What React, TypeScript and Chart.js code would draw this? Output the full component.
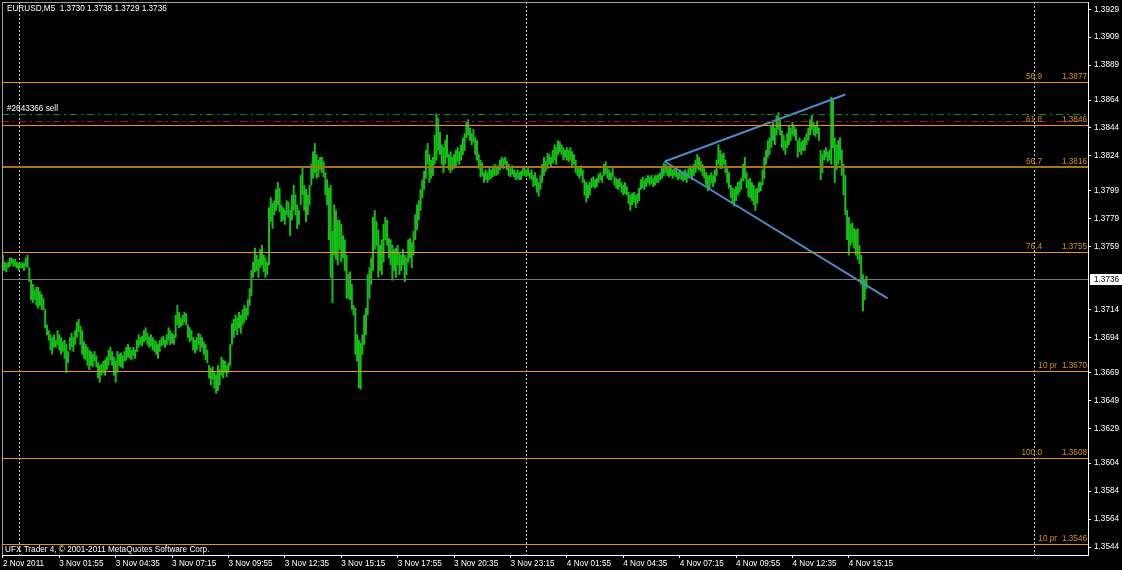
import React, { useEffect, useRef } from "react";
import { Chart, registerables } from "chart.js";

Chart.register(...registerables);

// ---- data (EURUSD M5, bar 0 = 2 Nov 23:15) ----
const HIGH = [
  1.3753, 1.3748, 1.3747, 1.3748, 1.3751, 1.3751, 1.375, 1.375, 1.3748, 1.3747,
  1.3747, 1.3748, 1.3747, 1.3751, 1.3753, 1.3744, 1.3735, 1.3732, 1.3728, 1.373,
  1.373, 1.3727, 1.3725, 1.3722, 1.3714, 1.3703, 1.3699, 1.3696, 1.3694, 1.3696,
  1.3692, 1.3699, 1.3696, 1.3694, 1.3691, 1.3692, 1.3689, 1.3684, 1.3694, 1.3697,
  1.3694, 1.3699, 1.3705, 1.3707, 1.3702, 1.3699, 1.3691, 1.3689, 1.3687, 1.3685,
  1.3684, 1.3682, 1.3684, 1.3681, 1.3676, 1.3674, 1.3675, 1.3677, 1.3678, 1.368,
  1.3685, 1.3687, 1.3684, 1.368, 1.3677, 1.3684, 1.3682, 1.3683, 1.3681, 1.3684,
  1.3687, 1.3689, 1.3687, 1.3685, 1.3687, 1.3685, 1.3692, 1.3696, 1.3694, 1.3695,
  1.3699, 1.3701, 1.3697, 1.3694, 1.3696, 1.3694, 1.3692, 1.3691, 1.3689, 1.3692,
  1.3694, 1.3695, 1.3692, 1.3696, 1.3701, 1.3699, 1.3697, 1.3696, 1.371, 1.3717,
  1.3712, 1.3708, 1.371, 1.3712, 1.3711, 1.3703, 1.3701, 1.3699, 1.3694, 1.3692,
  1.3694, 1.3697, 1.3696, 1.3694, 1.3691, 1.3689, 1.3685, 1.3674, 1.3672, 1.3673,
  1.3669, 1.3667, 1.3674, 1.3671, 1.368, 1.3678, 1.3677, 1.3674, 1.3676, 1.3689,
  1.3704, 1.3707, 1.371, 1.3708, 1.3712, 1.371, 1.3714, 1.3717, 1.3715, 1.3721,
  1.3729, 1.3742, 1.3748, 1.3758, 1.3753, 1.375, 1.3757, 1.376, 1.3753, 1.3751,
  1.3748, 1.3787, 1.3794, 1.379, 1.3792, 1.38, 1.3805, 1.3801, 1.3789, 1.3787,
  1.3785, 1.3792, 1.3791, 1.3785, 1.3796, 1.3803, 1.3796, 1.3789, 1.3785, 1.381,
  1.3816, 1.3803, 1.38, 1.3796, 1.3803, 1.3818, 1.3827, 1.3833, 1.3825, 1.3821,
  1.3823, 1.3823, 1.382, 1.3812, 1.3807, 1.3801, 1.3803, 1.377, 1.3789, 1.3785,
  1.3778, 1.3778, 1.3775, 1.3767, 1.3764, 1.3753, 1.3739, 1.3741, 1.3732, 1.3717,
  1.3715, 1.3696, 1.3692, 1.369, 1.3696, 1.371, 1.3715, 1.3739, 1.3744, 1.3751,
  1.378, 1.3785, 1.3777, 1.3771, 1.376, 1.3764, 1.3775, 1.378, 1.3778, 1.3765,
  1.3764, 1.376, 1.3757, 1.3758, 1.376, 1.3755, 1.3753, 1.3757, 1.3753, 1.3751,
  1.3764, 1.3765, 1.3762, 1.377, 1.3782, 1.3789, 1.3792, 1.38, 1.3807, 1.3813,
  1.3828, 1.3833, 1.3825, 1.3821, 1.3823, 1.3839, 1.3854, 1.3851, 1.3841, 1.3832,
  1.383, 1.3835, 1.3839, 1.3825, 1.3827, 1.3823, 1.3825, 1.3828, 1.383, 1.3827,
  1.3832, 1.3837, 1.384, 1.3848, 1.385, 1.3844, 1.384, 1.3843, 1.3837, 1.3835,
  1.3825, 1.3821, 1.3819, 1.3812, 1.3814, 1.3812, 1.3815, 1.3814, 1.3816, 1.3818,
  1.3815, 1.3817, 1.3821, 1.3823, 1.3822, 1.3823, 1.382, 1.3818, 1.3815, 1.3817,
  1.3814, 1.3812, 1.3814, 1.3812, 1.3813, 1.3815, 1.3816, 1.3814, 1.3815, 1.3812,
  1.3814, 1.381, 1.3812, 1.3808, 1.3805, 1.381, 1.3818, 1.3823, 1.382, 1.3826,
  1.3825, 1.3823, 1.3828, 1.3832, 1.383, 1.3835, 1.3834, 1.3832, 1.383, 1.3828,
  1.383, 1.3828, 1.383, 1.3827, 1.3825, 1.3821, 1.3816, 1.3815, 1.3817, 1.3814,
  1.3807, 1.3805, 1.3803, 1.3805, 1.3808, 1.3809, 1.3807, 1.3808, 1.3811, 1.3812,
  1.381, 1.3818, 1.382, 1.3815, 1.3814, 1.3812, 1.3815, 1.3809, 1.3808, 1.3807,
  1.3808, 1.3805, 1.3803, 1.3805, 1.3802, 1.3798, 1.3796, 1.3797, 1.3798, 1.3796,
  1.3797, 1.3801, 1.3807, 1.3809, 1.3807, 1.3808, 1.381, 1.3809, 1.381, 1.3808,
  1.381, 1.381, 1.3811, 1.3812, 1.3815, 1.3819, 1.3818, 1.3817, 1.3815, 1.3816,
  1.3814, 1.3815, 1.3814, 1.3812, 1.3814, 1.3813, 1.3812, 1.3814, 1.3812, 1.3815,
  1.3817, 1.3815, 1.3818, 1.3821, 1.3825, 1.3823, 1.382, 1.3818, 1.3815, 1.3812,
  1.381, 1.381, 1.3812, 1.381, 1.3814, 1.3821, 1.3832, 1.3828, 1.3825, 1.3826,
  1.3821, 1.3815, 1.3812, 1.3803, 1.3801, 1.38, 1.3802, 1.3805, 1.3806, 1.3808,
  1.3818, 1.3823, 1.3812, 1.3807, 1.3808, 1.3805, 1.3803, 1.38, 1.3801, 1.3805,
  1.3805, 1.3814, 1.3823, 1.3828, 1.3835, 1.3837, 1.3846, 1.3849, 1.3844, 1.3853,
  1.3855, 1.385, 1.3842, 1.3839, 1.3835, 1.384, 1.3846, 1.3844, 1.3848, 1.3846,
  1.3843, 1.3835, 1.3837, 1.3834, 1.3835, 1.3837, 1.384, 1.3844, 1.385, 1.3853,
  1.3848, 1.3846, 1.3849, 1.3844, 1.3828, 1.3825, 1.3828, 1.383, 1.3827, 1.3828,
  1.3866, 1.3864, 1.3837, 1.3832, 1.3835, 1.3837, 1.3828, 1.3818, 1.381, 1.3785,
  1.378, 1.3775, 1.3776, 1.3772, 1.3771, 1.3772, 1.376, 1.3753, 1.3739, 1.3735,
  1.3738,
];
const LOW = [
  1.3742, 1.3742, 1.3741, 1.3744, 1.3745, 1.3747, 1.3745, 1.3745, 1.3744, 1.3742,
  1.3744, 1.3744, 1.3742, 1.3745, 1.3744, 1.3734, 1.3721, 1.3719, 1.3721, 1.3717,
  1.3715, 1.3717, 1.3714, 1.3714, 1.3701, 1.3696, 1.3692, 1.3685, 1.3682, 1.3687,
  1.3687, 1.3689, 1.3685, 1.3682, 1.3684, 1.3679, 1.3669, 1.3676, 1.3685, 1.3687,
  1.3684, 1.3689, 1.3694, 1.3698, 1.3689, 1.3682, 1.3679, 1.3678, 1.3674, 1.3671,
  1.3674, 1.3673, 1.3677, 1.3673, 1.3665, 1.3662, 1.3667, 1.3669, 1.3667, 1.3671,
  1.3674, 1.3678, 1.3674, 1.3667, 1.3662, 1.3669, 1.3674, 1.3673, 1.3672, 1.3677,
  1.3678, 1.368, 1.3679, 1.3678, 1.3681, 1.3679, 1.3684, 1.3687, 1.3689, 1.3688,
  1.3691, 1.3692, 1.3689, 1.3687, 1.3688, 1.3685, 1.3684, 1.3682, 1.3679, 1.3684,
  1.3688, 1.3689, 1.3687, 1.3689, 1.3692, 1.3689, 1.369, 1.3689, 1.3694, 1.3703,
  1.3701, 1.3702, 1.3703, 1.3705, 1.3703, 1.3694, 1.3691, 1.3692, 1.3685, 1.3683,
  1.3685, 1.3689, 1.3684, 1.3687, 1.3682, 1.3678, 1.3676, 1.3665, 1.366, 1.3664,
  1.3658, 1.3654, 1.3656, 1.366, 1.3667, 1.3665, 1.3669, 1.3666, 1.3669, 1.3674,
  1.3689, 1.3694, 1.3699, 1.3696, 1.3701, 1.3697, 1.3703, 1.3705, 1.3707, 1.371,
  1.3717, 1.3724, 1.3737, 1.3741, 1.3742, 1.3737, 1.3744, 1.3746, 1.3741, 1.3737,
  1.3739, 1.3746, 1.3777, 1.3772, 1.3782, 1.3785, 1.3789, 1.3784, 1.3777, 1.3778,
  1.3775, 1.3782, 1.378, 1.3767, 1.3778, 1.3785, 1.3782, 1.3772, 1.3775, 1.3789,
  1.3796, 1.3785, 1.3777, 1.3782, 1.3789, 1.3803, 1.3808, 1.3812, 1.3808, 1.3809,
  1.3814, 1.3812, 1.3809, 1.3796, 1.3789, 1.3764, 1.3737, 1.3719, 1.3753, 1.375,
  1.3746, 1.3757, 1.3748, 1.3751, 1.3742, 1.3722, 1.3722, 1.3721, 1.3714, 1.371,
  1.3682, 1.3677, 1.3658, 1.3657, 1.3682, 1.3689, 1.3696, 1.371, 1.3722, 1.3732,
  1.3742, 1.3757, 1.376, 1.3737, 1.3742, 1.3739, 1.3748, 1.3764, 1.376, 1.3751,
  1.3746, 1.3735, 1.3742, 1.3737, 1.3746, 1.3739, 1.3742, 1.3746, 1.3734, 1.3739,
  1.3748, 1.3751, 1.3744, 1.3753, 1.3764, 1.3771, 1.3778, 1.3785, 1.3794, 1.38,
  1.3808, 1.3818, 1.3805, 1.3808, 1.381, 1.3818, 1.3821, 1.3828, 1.3825, 1.3818,
  1.3812, 1.3818, 1.3823, 1.3814, 1.3812, 1.3814, 1.3815, 1.3816, 1.382, 1.3818,
  1.3821, 1.3825, 1.3828, 1.3837, 1.3839, 1.3835, 1.3832, 1.3834, 1.3825, 1.3821,
  1.3815, 1.3809, 1.381, 1.3805, 1.3807, 1.3805, 1.3807, 1.3808, 1.3809, 1.381,
  1.381, 1.3811, 1.3814, 1.3816, 1.3815, 1.3818, 1.3814, 1.381, 1.3809, 1.3811,
  1.3809, 1.3807, 1.3808, 1.3807, 1.3807, 1.381, 1.381, 1.3809, 1.381, 1.3808,
  1.3807, 1.3802, 1.3803, 1.3798, 1.3795, 1.38, 1.3805, 1.381, 1.3813, 1.3815,
  1.3818, 1.3816, 1.3819, 1.3821, 1.3818, 1.3825, 1.3827, 1.3825, 1.3821, 1.3823,
  1.3821, 1.382, 1.3821, 1.3816, 1.3818, 1.3812, 1.381, 1.3808, 1.381, 1.3805,
  1.3796, 1.3791, 1.3794, 1.3796, 1.3801, 1.3802, 1.3801, 1.3802, 1.3805, 1.3807,
  1.3805, 1.381, 1.3811, 1.3808, 1.3807, 1.3807, 1.3809, 1.3803, 1.3801, 1.38,
  1.3802, 1.3798, 1.3796, 1.3797, 1.3796, 1.379, 1.3785, 1.3789, 1.3791, 1.3787,
  1.379, 1.3792, 1.38, 1.3801, 1.38, 1.3802, 1.3805, 1.3803, 1.3804, 1.3802,
  1.3803, 1.3805, 1.3805, 1.3807, 1.3808, 1.381, 1.3812, 1.381, 1.3809, 1.381,
  1.3808, 1.381, 1.3809, 1.3807, 1.3808, 1.3807, 1.3806, 1.3807, 1.3805, 1.3808,
  1.381, 1.3807, 1.381, 1.3812, 1.3815, 1.3814, 1.3813, 1.381, 1.3808, 1.3803,
  1.3799, 1.3801, 1.3805, 1.3802, 1.3805, 1.381, 1.3818, 1.3815, 1.3815, 1.3818,
  1.3812, 1.3805, 1.3801, 1.3794, 1.379, 1.3788, 1.3792, 1.3796, 1.3798, 1.38,
  1.3806, 1.3808, 1.3801, 1.3795, 1.3794, 1.3792, 1.3789, 1.3785, 1.379, 1.3798,
  1.3799, 1.3803, 1.3808, 1.3818, 1.3823, 1.3825, 1.383, 1.3835, 1.3832, 1.3839,
  1.3843, 1.3839, 1.383, 1.3828, 1.3825, 1.383, 1.3832, 1.3835, 1.3839, 1.3838,
  1.3835, 1.3823, 1.3827, 1.3825, 1.3828, 1.3828, 1.3832, 1.3835, 1.3839, 1.3843,
  1.3839, 1.3838, 1.384, 1.3835, 1.3807, 1.3812, 1.3821, 1.3823, 1.382, 1.3821,
  1.3818, 1.383, 1.3805, 1.3814, 1.3818, 1.3821, 1.381, 1.3796, 1.3782, 1.3764,
  1.3753, 1.376, 1.3762, 1.3758, 1.3753, 1.375, 1.3747, 1.3732, 1.3713, 1.3721,
  1.3729,
];

const X_TICK_INDEX = [0, 32, 64, 96, 128, 160, 192, 224, 256, 288, 320, 352, 384, 416, 448, 480];
const X_TICK_LABELS = [
  "2 Nov 2011", "3 Nov 01:55", "3 Nov 04:35", "3 Nov 07:15", "3 Nov 09:55", "3 Nov 12:35",
  "3 Nov 15:15", "3 Nov 17:55", "3 Nov 20:35", "3 Nov 23:15", "4 Nov 01:55", "4 Nov 04:35",
  "4 Nov 07:15", "4 Nov 09:55", "4 Nov 12:35", "4 Nov 15:15",
];
const Y_TICKS = [
  1.3929, 1.3909, 1.3889, 1.3864, 1.3844, 1.3824, 1.3799, 1.3779, 1.3759,
  1.3714, 1.3694, 1.3669, 1.3649, 1.3629, 1.3604, 1.3584, 1.3564, 1.3544,
];
const FIB_LABELS = ["56.9", "61.8", "66.7", "76.4", "10 pr", "100.0", "10 pr"];
const FIB_PRICES = [1.3877, 1.3846, 1.3816, 1.3755, 1.367, 1.3608, 1.3546];
const ORDER_PRICE = 1.3854;
const STOP_PRICE = 1.3849;
const ORDER_LABEL = "#2643366 sell";
const LAST_PRICE = 1.3736;
const HEADER = "EURUSD,M5  1.3730 1.3738 1.3729 1.3736";
const FOOTER = "UFX Trader 4, \u00a9 2001-2011 MetaQuotes Software Corp.";
const SEPARATOR_INDEX = [9, 297, 585];
const TREND_UP_X = [375.5, 478];
const TREND_UP_Y = [1.382, 1.3868];
const TREND_DOWN_X = [375.5, 502];
const TREND_DOWN_Y = [1.382, 1.3722];
const X_MIN = -0.5;
const X_MAX = 615.7;
const Y_MIN = 1.35383;
const Y_MAX = 1.39342;

const FONT = '"Liberation Sans", Arial, sans-serif';
const FS = 8.2;

function hLine(ctx: any, x0: number, x1: number, y: number, h: number, color: string) {
  ctx.fillStyle = color;
  ctx.fillRect(x0, y, x1 - x0, h);
}

function dashedHLine(ctx: any, x0: number, x1: number, y: number, pattern: number[], color: string) {
  ctx.fillStyle = color;
  let x = x0;
  let k = 0;
  while (x < x1) {
    const len = pattern[k % pattern.length];
    if (k % 2 === 0) ctx.fillRect(x, y, Math.min(len, x1 - x), 1);
    x += len;
    k++;
  }
}

const overlay = {
  id: "mtOverlay",
  beforeDatasetsDraw(chart: any) {
    const { ctx, chartArea, scales } = chart;
    const { top, bottom } = chartArea;
    ctx.save();
    ctx.fillStyle = "#c8c8c8";
    SEPARATOR_INDEX.forEach((i) => {
      const px = Math.round(scales.x.getPixelForValue(i));
      for (let yy = top; yy < bottom; yy += 4) ctx.fillRect(px, yy, 1, 2);
    });
    ctx.restore();
  },
  afterDatasetsDraw(chart: any) {
    const { ctx, chartArea, scales } = chart;
    const { left, right } = chartArea;
    const yPix = (p: number) => Math.round(scales.y.getPixelForValue(p));
    ctx.save();
    hLine(ctx, left, right, yPix(LAST_PRICE), 1, "#6a7888");
    dashedHLine(ctx, left, right, yPix(ORDER_PRICE), [7, 4, 2, 4], "#0b8a0b");
    dashedHLine(ctx, left, right, yPix(STOP_PRICE), [7, 4, 2, 4], "#a41212");
    ctx.font = `${FS}px ${FONT}`;
    ctx.textBaseline = "bottom";
    ctx.textAlign = "right";
    FIB_PRICES.forEach((p, i) => {
      const py = yPix(p);
      const strong = FIB_LABELS[i] === "66.7";
      if (strong) hLine(ctx, left, right, py - 1, 2, "#a87412");
      else hLine(ctx, left, right, py, 1, "#f0900c");
      ctx.fillStyle = "#d8920e";
      ctx.fillText(p.toFixed(4), right - 1, py - 1);
      const isPr = FIB_LABELS[i].startsWith("10 pr");
      ctx.fillText(FIB_LABELS[i], isPr ? right - 31 : right - 46, py - 1);
    });
    ctx.restore();
  },
  afterDraw(chart: any) {
    const { ctx, chartArea, scales, width } = chart;
    const { left, top, right, bottom } = chartArea;
    ctx.save();
    hLine(ctx, left, right, top, 1, "#a0a0a0");
    ctx.fillRect(left, top, 1, bottom - top);
    ctx.font = `${FS}px ${FONT}`;
    ctx.fillStyle = "#ffffff";
    ctx.textAlign = "left";
    ctx.textBaseline = "top";
    ctx.fillText(HEADER, left + 5, top + 3);
    ctx.fillText(FOOTER, left + 3, bottom - 9);
    ctx.textBaseline = "bottom";
    ctx.fillText(ORDER_LABEL, left + 5, Math.round(scales.y.getPixelForValue(ORDER_PRICE)) - 1);
    const py = Math.round(scales.y.getPixelForValue(LAST_PRICE));
    ctx.fillStyle = "#ffffff";
    ctx.fillRect(right + 2, py - 5, width - right - 2, 11);
    ctx.fillStyle = "#000000";
    ctx.textBaseline = "middle";
    ctx.fillText(LAST_PRICE.toFixed(4), right + 6, py + 0.5);
    ctx.restore();
  },
};

export default function App() {
  const ref = useRef<HTMLCanvasElement>(null);
  useEffect(() => {
    const canvas = ref.current;
    if (!canvas) return;
    const bars = HIGH.map((h, i) => ({ x: i, y: [LOW[i], h] }));
    const chart = new Chart(canvas, {
      type: "bar",
      data: {
        datasets: [
          {
            type: "line",
            data: TREND_UP_X.map((x, i) => ({ x, y: TREND_UP_Y[i] })),
            borderColor: "#4a8ac8",
            borderWidth: 2,
            pointRadius: 0,
            fill: false,
            order: 0,
          } as any,
          {
            type: "line",
            data: TREND_DOWN_X.map((x, i) => ({ x, y: TREND_DOWN_Y[i] })),
            borderColor: "#4a8ac8",
            borderWidth: 2,
            pointRadius: 0,
            fill: false,
            order: 0,
          } as any,
          {
            type: "bar",
            data: bars as any,
            backgroundColor: "#17c017",
            borderWidth: 0,
            barThickness: 1.3,
            order: 1,
          } as any,
        ],
      },
      options: {
        responsive: false,
        animation: false,
        devicePixelRatio: 1,
        layout: { padding: { left: 2, top: 2, right: 0, bottom: 0 } },
        plugins: { legend: { display: false }, tooltip: { enabled: false } },
        scales: {
          x: {
            type: "linear",
            min: X_MIN,
            max: X_MAX,
            offset: false,
            position: "bottom",
            grid: { drawOnChartArea: false, drawTicks: true, tickLength: 3, color: "#ffffff", offset: false },
            border: { display: true, color: "#ffffff", width: 1 },
            ticks: {
              color: "#ffffff",
              font: { family: FONT, size: FS },
              align: "start",
              padding: 1,
              maxRotation: 0,
              minRotation: 0,
              autoSkip: false,
              callback: (_v: any, i: number) => X_TICK_LABELS[i] ?? "",
            },
            afterBuildTicks: (s: any) => {
              s.ticks = X_TICK_INDEX.map((v) => ({ value: v }));
            },
            afterFit: (s: any) => {
              s.height = 15;
              s.paddingLeft = 0;
              s.paddingRight = 0;
            },
          } as any,
          y: {
            type: "linear",
            position: "right",
            min: Y_MIN,
            max: Y_MAX,
            grid: { drawOnChartArea: false, drawTicks: true, tickLength: 3, color: "#ffffff" },
            border: { display: true, color: "#ffffff", width: 1 },
            ticks: {
              color: "#ffffff",
              font: { family: FONT, size: FS },
              padding: 3,
              autoSkip: false,
              callback: (v: any) => Number(v).toFixed(4),
            },
            afterBuildTicks: (s: any) => {
              s.ticks = Y_TICKS.map((v) => ({ value: v }));
            },
            afterFit: (s: any) => {
              s.width = 34;
              s.paddingTop = 0;
              s.paddingBottom = 0;
            },
          } as any,
        },
      },
      plugins: [overlay],
    });
    return () => chart.destroy();
  }, []);
  return (
    <div style={{ position: "fixed", left: 0, top: 0, width: 1122, height: 570, background: "#000" }}>
      <canvas ref={ref} width={1122} height={570} style={{ display: "block" }} />
    </div>
  );
}
